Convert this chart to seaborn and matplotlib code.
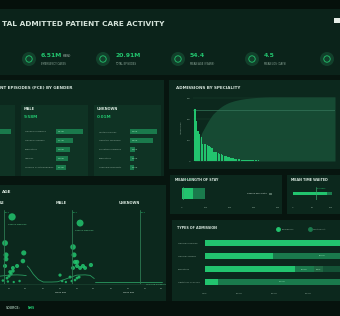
import numpy as np
import pandas as pd
import seaborn as sns
import matplotlib.pyplot as plt
from matplotlib.patches import Rectangle, Circle
from matplotlib.lines import Line2D

W, H = 340, 316
BG = '#07150f'
PANEL = '#0c281d'
SUB = '#0f3324'
GREEN = '#22c46e'
MID = '#1a7a4c'
DARK = '#145236'
TXT = '#d5e4db'
MUTED = '#8ea99a'

# ---- data ----
kpi_values = ['6.51M', '20.91M', '54.4', '4.5']
kpi_labels = ['EMERGENCY CASES', 'TOTAL EPISODES', 'MEAN AGE (YEARS)', 'MEAN LOS (DAYS)']

female_specs = ['General Medicine', 'Obstetrics', 'General Surgery', 'Gynaecology', 'Trauma & Orthopaedics']
female_eps = [2.91, 1.62, 1.38, 1.20, 1.05]
male_specs = ['General Medicine', 'General Surgery', 'Paediatrics', 'Urology', 'Trauma & Orthopaedics']
male_eps = [2.81, 1.77, 1.46, 1.25, 1.04]
unknown_specs = ['Ophthalmology', 'Geriatric Medicine', 'Palliative Medicine', 'Paediatrics', 'Learning Disability']
unknown_eps = [1.9, 1.6, 0.35, 0.3, 0.3]

spec_admissions = [2.48, 1.90, 1.43, 1.29, 1.14, 0.81, 0.81, 0.81, 0.76, 0.71,
                   0.67, 0.62, 0.43, 0.43, 0.43, 0.38, 0.33, 0.33, 0.29, 0.24,
                   0.24, 0.19, 0.19, 0.14, 0.14, 0.14, 0.10, 0.10, 0.10, 0.10,
                   0.07, 0.07, 0.07, 0.05, 0.05, 0.05, 0.05, 0.05, 0.04, 0.04,
                   0.03, 0.03, 0.02, 0.02, 0.02, 0.02, 0.01, 0.01, 0.01, 0.01]

female_age = [64, 55.6, 56.8, 56.8, 55.6, 77, 78, 70, 65, 61.6, 60.4, 62.8, 58, 65, 53, 59, 66, 73]
female_y = [2.72, 1.66, 1.18, 1.01, 0.73, 0.93, 1.26, 0.73, 0.65, 0.49, 0.32, 0.41, 0.24, 0.53, 0.14, 0.10, 0.08, 0.12]
male_age = [64, 55.6, 56.8, 58, 60.4, 55.6, 60.4, 64, 67.5, 70, 77, 62.8, 60.4, 58, 40, 52, 42.6, 47, 54]
male_y = [2.47, 1.50, 1.18, 0.89, 0.89, 0.65, 0.73, 0.65, 0.73, 0.65, 0.77, 0.28, 0.24, 0.16, 0.36, 0.28, 0.12, 0.08, 0.12]

curve_age = [0, 3, 8, 14, 20, 30, 37, 45, 55, 60, 70, 76, 81]
female_curve = [0.90, 0.70, 0.40, 0.15, 0.12, 0.25, 0.28, 0.30, 0.34, 0.36, 0.37, 0.36, 0.34]
male_curve = [0.75, 0.65, 0.40, 0.18, 0.08, 0.08, 0.09, 0.18, 0.30, 0.36, 0.37, 0.35, 0.22]
unknown_curve = [0.10, 0.10, 0.10, 0.10, 0.10, 0.10, 0.10, 0.10, 0.10, 0.10, 0.10, 0.10, 0.10]

los_core, los_spread, los_mean = 45, 95, 4.5
los_outlier, los_outlier_name = 367, 'General Psychiatry'
wait_core, wait_spread, wait_mean = 90, 103, 60

adm_specs = ['General Medicine', 'General Surgery', 'Paediatrics', 'Obstetrics & Gynae']
adm_types = ['Emergency', 'Waiting list', 'Booked', 'Planned']
emergency = [91.0, 39.4, 52.1, 7.5]
waiting = [5.2, 56.6, 10.9, 74.2]
booked = [2.1, 2.5, 5.3, 10.1]
planned = [1.7, 1.5, 31.7, 8.2]

# ---- figure ----
sns.set_theme(style='dark')
plt.rcParams['font.family'] = ['DejaVu Sans']

fig = plt.figure(figsize=(W / 100, H / 100), dpi=100, facecolor=BG)
bg = fig.add_axes([0, 0, 1, 1], zorder=-1)
bg.set_xlim(0, W)
bg.set_ylim(H, 0)
bg.axis('off')


def panel(x, y, w, h, color=PANEL):
    bg.add_patch(Rectangle((x, y), w, h, color=color, lw=0))


def px_axes(x, y, w, h):
    ax = fig.add_axes([x / W, 1 - (y + h) / H, w / W, h / H], zorder=1)
    ax.set_facecolor('none')
    return ax


def label(x, y, s, size=2.0, color=MUTED, **kw):
    bg.text(x, y, s, fontsize=size, color=color, va='center', **kw)


def hbar(ax, val, key, color):
    sns.barplot(x=[val], y=[key], orient='h', color=color, width=0.3,
                saturation=1, linewidth=0, edgecolor='none', ax=ax)


# header
panel(0, 0, W, 9, '#05100b')
panel(0, 9, W, 66, '#0b231a')
label(2, 24, 'TAL ADMITTED PATIENT CARE ACTIVITY', 5.3, TXT, fontweight='bold')
bg.add_patch(Rectangle((334, 18), 6, 5, color='#e6eee8', lw=0))
icon_x = [29, 103, 178, 252, 327]
for cx in icon_x:
    bg.add_patch(Circle((cx, 59), 7, color='#12402b', lw=0))
    bg.add_patch(Circle((cx, 59), 3.2, fc='none', ec=GREEN, lw=0.6))
for cx, v, l in zip(icon_x, kpi_values, kpi_labels):
    label(cx + 12, 55.5, v, 4.4, GREEN, fontweight='bold')
    label(cx + 12, 64, l, 1.8, MUTED)
label(63, 56, '(38%)', 2.0, TXT)

# gender panel
panel(0, 80, 164, 96)
label(0, 88, 'NT EPISODES (FCE) BY GENDER', 3.0, TXT, fontweight='bold')
panel(0, 105, 15, 71, SUB)
panel(21, 105, 67, 71, SUB)
panel(94, 105, 67, 71, SUB)
label(24, 109, 'MALE', 2.5, TXT, fontweight='bold')
label(24, 117, '9.58M', 3.0, GREEN, fontweight='bold')
label(97, 109, 'UNKNOWN', 2.5, TXT, fontweight='bold')
label(97, 117, '0.01M', 3.0, GREEN, fontweight='bold')


def gender_bars(x0, specs, vals, xmax, unit, show_text):
    ax = px_axes(x0, 127.5, 30, 44)
    sns.barplot(x=vals, y=list(range(len(vals))), orient='h', color=MID,
                width=0.58, saturation=1, linewidth=0, edgecolor='none', ax=ax)
    ax.set_xlim(0, xmax)
    ax.axis('off')
    if show_text:
        for i, (s, v) in enumerate(zip(specs, vals)):
            ax.text(-31 / 30, i, s, transform=ax.get_yaxis_transform(),
                    fontsize=1.7, color=MUTED, va='center', ha='left')
            ax.text(xmax * 0.05, i, f'{v:.2f}{unit}', fontsize=1.5,
                    color='#a6f0c4', va='center')


gender_bars(-17, female_specs, female_eps, 3.12, 'M', False)
gender_bars(56, male_specs, male_eps, 3.12, 'M', True)
gender_bars(130, unknown_specs, unknown_eps, 2.11, 'K', True)

# admissions by speciality
panel(169, 80, 171, 89)
label(176, 88, 'ADMISSIONS BY SPECIALITY', 3.0, TXT, fontweight='bold')
ax = px_axes(193, 93, 142, 68)
n = len(spec_admissions)
sns.barplot(x=list(range(n)), y=spec_admissions, color=GREEN, width=0.85,
            saturation=1, linewidth=0, edgecolor='none', ax=ax, zorder=3)
ax.set_xlim(-1.3, 90.7)
ax.set_ylim(0, 3.24)
ax.set_xticks([])
ax.set_yticks([0, 1, 2, 3])
ax.set_yticklabels(['0', '1M', '2M', '3M'], fontsize=1.7, color=MUTED)
ax.tick_params(length=0, pad=2)
ax.set_ylabel('Admissions', fontsize=1.7, color=MUTED, labelpad=3)
ax.set_xlabel('')
ax.yaxis.grid(True, color='#1c4634', lw=0.3)
for s in ax.spines.values():
    s.set_visible(False)
tw = ax.twinx()
tw.set_zorder(0.5)
tw.set_facecolor('none')
cum = np.cumsum(spec_admissions) / np.sum(spec_admissions) * 100
xs = np.r_[-0.5, np.arange(n) + 0.5, 90.7]
ys = np.r_[0, cum, 100]
tw.fill_between(xs, ys, color='#164a33', lw=0)
tw.axhline(80, color='#35765a', lw=0.5)
tw.set_ylim(0, 106)
tw.set_xlim(-1.3, 90.7)
tw.axis('off')
label(318, 135, '80%', 1.6, GREEN, fontweight='bold')
label(325, 135, 'of all', 1.6, TXT)
label(318, 139, 'concentrated', 1.6, TXT)
label(318, 143, 'specialities', 1.6, TXT)

# age facets
panel(0, 185, 166, 116)
label(2, 192, 'AGE', 3.0, TXT, fontweight='bold')
label(0, 203, 'LE', 2.5, TXT, fontweight='bold')
bg.text(61, 203, 'MALE', fontsize=2.5, color=TXT, fontweight='bold', ha='center', va='center')
bg.text(129, 203, 'UNKNOWN', fontsize=2.5, color=TXT, fontweight='bold', ha='center', va='center')

facets = [
    (-41.4, female_age, female_y, female_curve, [60, 80], None),
    (26.6, male_age, male_y, male_curve, [20, 40, 60, 80], 'Mean age'),
    (94.6, [], [], unknown_curve, [20, 40, 60, 80], 'Mean age'),
]
for x0, ages, eps, curve, ticks, xl in facets:
    ax = px_axes(x0, 210, 68, 74)
    sns.lineplot(x=curve_age, y=curve, color='#2a9a60', lw=0.6, ax=ax)
    if ages:
        df = pd.DataFrame({'age': ages, 'episodes': eps})
        sns.scatterplot(data=df, x='age', y='episodes', size='episodes',
                        sizes=(2, 28), size_norm=(0, 2.8), color=GREEN,
                        alpha=0.85, edgecolor='none', legend=False, ax=ax)
    ax.axvline(54.4, color='#2d7a52', lw=0.6)
    ax.text(55.8, 2.93, '54.4', fontsize=1.6, color=GREEN, va='top')
    ax.set_xlim(0, 81.4)
    ax.set_ylim(0, 3.0)
    ax.set_xticks(ticks)
    ax.set_xticklabels([str(t) for t in ticks], fontsize=1.6, color=MUTED)
    ax.set_yticks([])
    ax.set_ylabel('')
    ax.tick_params(length=0, pad=3)
    ax.set_xlabel(xl if xl else '', fontsize=1.6, color=TXT, labelpad=2)
    for k, s in ax.spines.items():
        s.set_visible(k == 'bottom')
    ax.spines['bottom'].set_color('#1f4a36')
    ax.spines['bottom'].set_linewidth(0.4)
    if x0 < 0:
        ax.text(59.5, 2.40, 'General Medicine', fontsize=1.5, color='#5fd08e', va='center')
    elif ages:
        ax.text(58.5, 2.16, 'General Medicine', fontsize=1.5, color='#5fd08e', va='center')
    else:
        ax.text(61.5, 0.02, 'Learning Disability', fontsize=1.5, color='#5fd08e', va='top')

# mean length of stay
panel(170, 175, 112, 39)
label(175, 180, 'MEAN LENGTH OF STAY', 2.4, TXT, fontweight='bold')
ax = px_axes(180, 187, 100, 13)
hbar(ax, los_spread, 'los', MID)
hbar(ax, los_core, 'los', GREEN)
ax.axvline(los_mean, color='#3aa36b', lw=0.5)
ax.text(los_mean + 4, -0.35, '4.5 days', fontsize=1.5, color=GREEN, va='center')
ax.scatter([los_outlier], [0], marker='s', s=2, fc='none', ec=MUTED, lw=0.4)
ax.text(los_outlier - 12, 0, los_outlier_name, fontsize=1.5, color=TXT, ha='right', va='center')
ax.set_xlim(-8.3, 408.3)
ax.set_xticks([0, 100, 200, 300, 400])
ax.set_xticklabels(['0', '100', '200', '300', '400'], fontsize=1.6, color=MUTED)
ax.set_yticks([])
ax.set_xlabel('')
ax.set_ylabel('')
ax.tick_params(length=0, pad=5)
for s in ax.spines.values():
    s.set_visible(False)

# mean time waited
panel(287, 175, 53, 39)
label(291, 180, 'MEAN TIME WAITED', 2.4, TXT, fontweight='bold')
ax = px_axes(290, 187, 50, 13)
hbar(ax, wait_spread, 'wait', MID)
hbar(ax, wait_core, 'wait', GREEN)
ax.axvline(wait_mean, color='#3aa36b', lw=0.5)
ax.text(wait_mean + 2, -0.35, '60 days', fontsize=1.5, color=GREEN, va='center')
ax.set_xlim(-7.9, 123.7)
ax.set_xticks([0, 50, 100])
ax.set_xticklabels(['0', '50', '100'], fontsize=1.6, color=MUTED)
ax.set_yticks([])
ax.set_xlabel('')
ax.set_ylabel('')
ax.tick_params(length=0, pad=5)
for s in ax.spines.values():
    s.set_visible(False)

# types of admission
panel(172, 220, 168, 81)
label(177, 228, 'TYPES OF ADMISSION', 2.4, TXT, fontweight='bold')
ax = px_axes(204.4, 236.5, 135.6, 52)
ypos = np.arange(len(adm_specs))
left = np.zeros(len(adm_specs))
seg_colors = [GREEN, MID, '#1f6642', DARK]
for j, (vals, c) in enumerate(zip([emergency, waiting, booked, planned], seg_colors)):
    vals = np.array(vals)
    ax.barh(ypos, vals, left=left, height=0.42, color=c, lw=0)
    if j > 0:
        for i, v in enumerate(vals):
            cen = left[i] + v / 2
            if v > 3 and cen < 75:
                ax.text(cen, i, f'{v:.1f}%', fontsize=1.5, color='#a6f0c4', ha='center', va='center')
    left += vals
for i, s in enumerate(adm_specs):
    ax.text(-26.4 / 135.6, i, s, transform=ax.get_yaxis_transform(), fontsize=1.6,
            color=MUTED, ha='left', va='center')
ax.set_xlim(-0.35, 78.3)
ax.set_ylim(3.5, -0.5)
ax.set_yticks([])
ax.set_xticks([0, 20, 40, 60])
ax.set_xticklabels(['0.0%', '20.0%', '40.0%', '60.0%'], fontsize=1.6, color=MUTED)
ax.tick_params(length=0, pad=3)
for s in ax.spines.values():
    s.set_visible(False)
handles = [Line2D([], [], marker='o', ls='', color=c, markersize=2.5) for c in seg_colors[:2]]
ax.legend(handles, adm_types[:2], loc='center left', bbox_to_anchor=(275, 229),
          bbox_transform=bg.transData, ncol=2, fontsize=1.6, frameon=False,
          handletextpad=0.4, columnspacing=6, labelcolor=MUTED, borderpad=0)

# footer
panel(0, 301, W, 15, '#06120d')
label(6, 308, 'SOURCE:', 2.2, MUTED, fontweight='bold')
label(28, 308, 'NHS', 2.2, GREEN, fontweight='bold')

fig.savefig('out.png', dpi=100, facecolor=BG)
